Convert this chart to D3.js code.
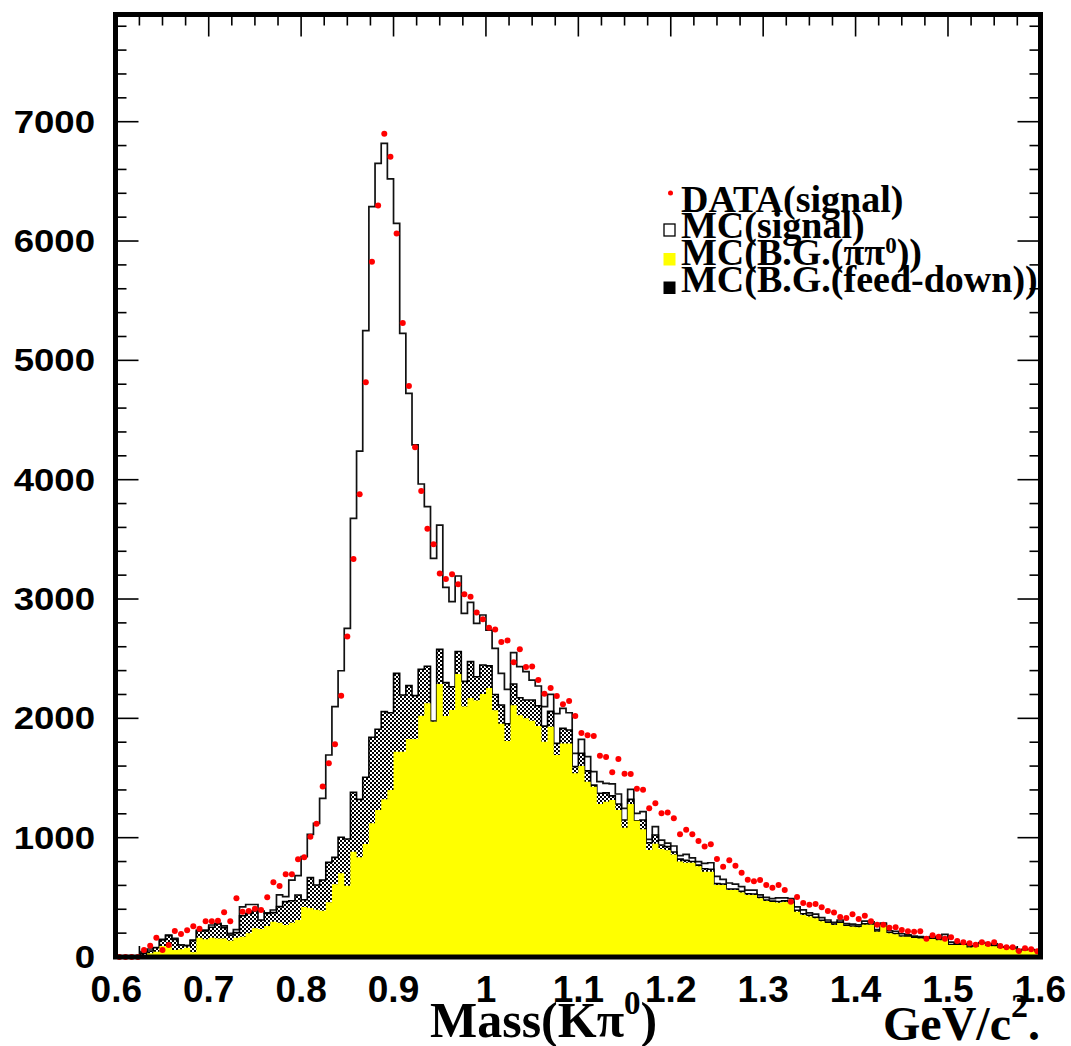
<!DOCTYPE html>
<html><head><meta charset="utf-8">
<script src="https://cdn.jsdelivr.net/npm/d3@7"></script>
<style>body{margin:0;background:#fff} svg{display:block}</style>
</head><body>
<svg id="c" width="1071" height="1046"></svg>
<script>
// ---------- data (150 bins, 0.6 - 1.6 GeV/c^2) ----------
const massRange = [0.6, 1.6];
const nBins = 150;
const dataSignal = [0,0,0,0,59,95,162,59,100,218,193,224,257,237,299,299,304,375,299,492,
380,386,405,394,500,626,595,693,693,819,836,1008,1117,1428,1623,1783,2190,2685,3336,3878,
4817,5826,6298,6899,6706,6063,5314,4786,4272,3906,3588,3459,3213,3168,3208,3124,3040,3020,2888,2831,
2760,2745,2640,2653,2470,2579,2431,2434,2322,2207,2255,2188,2118,2146,2020,1878,1858,1852,1687,1676,
1548,1660,1536,1534,1411,1402,1246,1288,1204,1210,1162,1028,1067,1028,972,925,944,821,757,810,
765,707,648,634,645,603,581,603,562,464,503,453,438,444,416,386,372,335,327,358,
318,346,299,271,271,246,249,226,215,212,215,153,182,170,153,165,134,123,115,103,
123,109,123,92,81,81,50,73,64,48];
const mcSignalTotal = [0,0,0,0,45,67,78,148,184,156,100,95,142,226,226,268,282,260,198,230,
420,440,440,385,370,394,520,506,645,682,841,1028,1120,1330,1693,2098,2399,2754,3676,4240,
5249,6288,6651,6818,6520,6148,5226,4723,4291,3964,3774,3341,3620,3098,2978,3193,2880,2972,2796,2866,
2740,2587,2377,2243,2550,2433,2391,2321,2271,2098,2201,2040,2084,2047,1707,1824,1679,1553,1469,1455,
1450,1366,1246,1405,1204,1218,986,1092,980,955,930,850,860,830,800,785,790,675,650,620,
610,590,560,560,520,500,490,495,495,490,420,395,370,360,330,310,290,310,280,275,
270,300,295,230,285,220,215,195,185,175,170,165,170,160,190,125,115,110,95,95,
120,100,110,85,80,80,60,65,62,55];
const mcFeedDownTop = [0,0,0,0,31,50,78,142,179,148,100,95,137,218,218,249,277,246,184,204,
346,366,385,310,366,372,422,464,472,520,480,665,603,645,793,835,1003,989,1380,1321,
1506,1841,1908,2056,2047,2377,2196,2274,2190,2411,2436,1978,2578,2299,2265,2560,2310,2475,2349,2447,
2440,2200,2112,1955,2288,2173,2154,2154,2105,1935,2058,1790,1916,1902,1595,1707,1560,1440,1372,1375,
1350,1282,1148,1321,1142,1148,958,1022,939,925,880,820,810,800,770,740,735,615,612,570,
570,550,530,528,500,478,468,465,470,460,392,362,350,332,308,292,276,292,266,260,
256,278,276,218,275,205,195,176,175,165,160,155,155,146,160,105,104,104,84,88,
113,97,93,78,77,72,47,57,59,46];
const mcPiPi0 = [0,0,0,0,14,31,45,92,87,59,64,78,40,162,148,162,156,156,137,162,
170,198,240,235,260,296,288,268,288,310,420,410,395,388,458,609,701,598,883,835,
947,1120,1232,1321,1399,1721,1721,1827,1827,2022,2126,1972,2288,2020,2070,2372,2100,2170,2150,2205,
2255,2067,1955,1810,2110,2025,2000,1980,1936,1804,1930,1693,1790,1790,1539,1601,1469,1427,1282,1302,
1316,1232,1084,1282,1142,1070,897,950,905,895,860,800,790,790,760,715,715,603,603,561,
561,540,520,520,492,470,460,455,460,450,380,352,340,324,300,285,268,285,260,254,
250,270,270,212,270,200,190,170,170,160,155,150,150,140,155,100,100,101,80,85,
110,95,90,75,75,70,45,55,58,45];
const xTickLabels = ["0.6","0.7","0.8","0.9","1","1.1","1.2","1.3","1.4","1.5","1.6"];
const yTickLabels = ["0","1000","2000","3000","4000","5000","6000","7000"];
const legendLabels = ["DATA(signal)","MC(signal)","MC(B.G.(ππ0))","MC(B.G.(feed-down))"];

// ---------- drawing ----------
const svg = d3.select("#c");
const x = d3.scaleLinear().domain(massRange).range([116.3, 1040.4]);
const y = d3.scaleLinear().domain([0, 7900]).range([957, 14.3]);
const binW = (massRange[1]-massRange[0])/nBins;
const SANS = "'Liberation Sans', Arial, Helvetica, sans-serif";
const SERIF = "'Liberation Serif', 'Times New Roman', serif";

const defs = svg.append("defs");
const pat = defs.append("pattern").attr("id","chk").attr("width",4).attr("height",4)
  .attr("patternUnits","userSpaceOnUse");
pat.append("rect").attr("width",4).attr("height",4).attr("fill","#fff");
pat.append("rect").attr("width",2).attr("height",2).attr("fill","#000");
pat.append("rect").attr("x",2).attr("y",2).attr("width",2).attr("height",2).attr("fill","#000");

function pts(vals){
  const p = vals.map((v,i)=>({m: massRange[0]+i*binW, v}));
  p.push({m: massRange[1], v: vals[vals.length-1]});
  return p;
}
const line = d3.line().x(d=>x(d.m)).y(d=>y(d.v)).curve(d3.curveStepAfter);
const area = d3.area().x(d=>x(d.m)).y0(y(0)).y1(d=>y(d.v)).curve(d3.curveStepAfter);

// ticks (drawn first, histograms cover the bottom ones)
const tk = svg.append("g").attr("stroke","#000").attr("stroke-width",1.6);
d3.range(0,41).forEach(k=>{
  const m = massRange[0]+k*0.025, L = (k%4===0)?22:11, xx = x(m);
  tk.append("line").attr("x1",xx).attr("x2",xx).attr("y1",14.5).attr("y2",14.5+L);
  tk.append("line").attr("x1",xx).attr("x2",xx).attr("y1",957).attr("y2",957-L);
});
d3.range(0,40).forEach(k=>{
  const v = k*200, L = (k%5===0)?23:11, yy = y(v);
  tk.append("line").attr("x1",115.5).attr("x2",115.5+L).attr("y1",yy).attr("y2",yy);
  tk.append("line").attr("x1",1040.5).attr("x2",1040.5-L).attr("y1",yy).attr("y2",yy);
});

// MC total outline
svg.append("path").attr("d", line(pts(mcSignalTotal))).attr("fill","none")
  .attr("stroke","#111").attr("stroke-width",1.7);
// feed-down (stacked) checkered
svg.append("path").attr("d", area(pts(mcFeedDownTop))).attr("fill","url(#chk)");
svg.append("path").attr("d", line(pts(mcFeedDownTop))).attr("fill","none")
  .attr("stroke","#000").attr("stroke-width",1.6);
// pi pi0 yellow
svg.append("path").attr("d", area(pts(mcPiPi0))).attr("fill","#ffff00");

// data points
svg.append("g").selectAll("circle").data(dataSignal).join("circle")
  .attr("cx",(d,i)=>x(massRange[0]+(i+0.5)*binW)).attr("cy",d=>y(d))
  .attr("r",3).attr("fill","#ff0000");

// frame
svg.append("rect").attr("x",115.5).attr("y",14.5).attr("width",925).attr("height",942.5)
  .attr("fill","none").attr("stroke","#000").attr("stroke-width",5);

// axis labels
svg.append("g").selectAll("text").data(xTickLabels).join("text")
  .attr("x",(d,i)=>x(massRange[0]+i*0.1)).attr("y",1001.5)
  .attr("text-anchor","middle").attr("font-family",SANS).attr("font-weight","bold")
  .attr("font-size",37).text(d=>d);
svg.append("g").selectAll("text").data(yTickLabels).join("text")
  .attr("transform",(d,i)=>`translate(95,${y(i*1000)+11}) scale(1.18,1)`)
  .attr("text-anchor","end").attr("font-family",SANS).attr("font-weight","bold")
  .attr("font-size",31).text(d=>d);

// axis titles
const t1 = svg.append("text").attr("x",430).attr("y",1037).attr("font-family",SERIF)
  .attr("font-weight","bold").attr("font-size",50);
t1.append("tspan").text("Mass(Kπ");
t1.append("tspan").attr("dy",-23).attr("font-size",33).text("0");
t1.append("tspan").attr("dy",23).text(")");
const t2 = svg.append("text").attr("x",883).attr("y",1040).attr("font-family",SERIF)
  .attr("font-weight","bold").attr("font-size",48);
t2.append("tspan").text("GeV/c");
t2.append("tspan").attr("dy",-23).attr("font-size",34).text("2");
t2.append("tspan").attr("dy",23).text(".");

// legend
const lg = svg.append("g").attr("font-family",SERIF).attr("font-weight","bold").attr("font-size",38);
const lgY = [212, 238, 265, 292];
lg.append("circle").attr("cx",670.5).attr("cy",193).attr("r",2.5).attr("fill","#ff0000");
lg.append("rect").attr("x",664).attr("y",224).attr("width",11).attr("height",12)
  .attr("fill","#fff").attr("stroke","#000").attr("stroke-width",1.3);
lg.append("rect").attr("x",663.5).attr("y",253).attr("width",12).attr("height",12.5).attr("fill","#ffff00");
lg.append("rect").attr("x",663.5).attr("y",281.5).attr("width",12).attr("height",12.5).attr("fill","#000");
legendLabels.forEach((s,i)=>{
  const t = lg.append("text").attr("x",681).attr("y",lgY[i]);
  if (s.includes("ππ0")) {
    const [a,b] = s.split("ππ0");
    t.append("tspan").text(a+"ππ");
    t.append("tspan").attr("dy",-12).attr("font-size",23).text("0");
    t.append("tspan").attr("dy",12).text(b);
  } else t.text(s);
});
</script>
</body></html>
